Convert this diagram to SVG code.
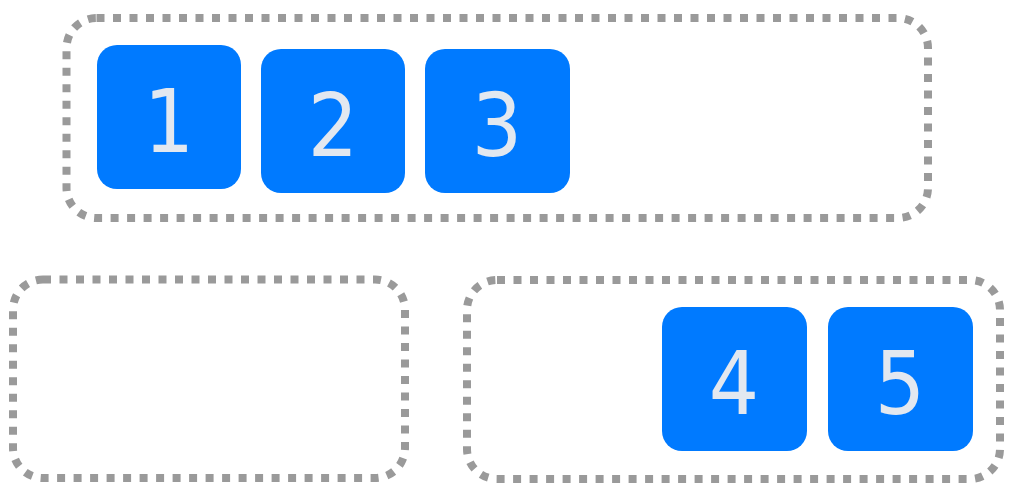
<svg xmlns="http://www.w3.org/2000/svg" width="1020" height="502" viewBox="0 0 1020 502">
<style>
.grp{fill:none;stroke:#9a9a9a;stroke-width:8;stroke-dasharray:8 8.5}
.box{fill:#007aff}
.lbl{font-family:"DejaVu Sans Condensed","DejaVu Sans",sans-serif;font-stretch:condensed;font-size:88px;fill:#e2e8f0;text-anchor:middle}
</style>
<g id="groups">
<rect id="group-top" class="grp" x="66.5" y="18" width="861.5" height="200" rx="30"/>
<rect id="group-bottom-left" class="grp" x="13" y="279.5" width="392" height="198.5" rx="30"/>
<rect id="group-bottom-right" class="grp" x="467" y="280" width="533" height="199" rx="30"/>
</g>
<g id="connectors"></g>
<g id="node-1"><rect class="box" x="97" y="45" width="144" height="144" rx="20"/><text class="lbl" x="169" y="152">1</text></g>
<g id="node-2"><rect class="box" x="261" y="49" width="144" height="144" rx="20"/><text class="lbl" x="333" y="156">2</text></g>
<g id="node-3"><rect class="box" x="425" y="49" width="145" height="144" rx="20"/><text class="lbl" x="497" y="156">3</text></g>
<g id="node-4"><rect class="box" x="662" y="307" width="145" height="144" rx="20"/><text class="lbl" x="734" y="414">4</text></g>
<g id="node-5"><rect class="box" x="828" y="307" width="145" height="144" rx="20"/><text class="lbl" x="900" y="414">5</text></g>
</svg>
